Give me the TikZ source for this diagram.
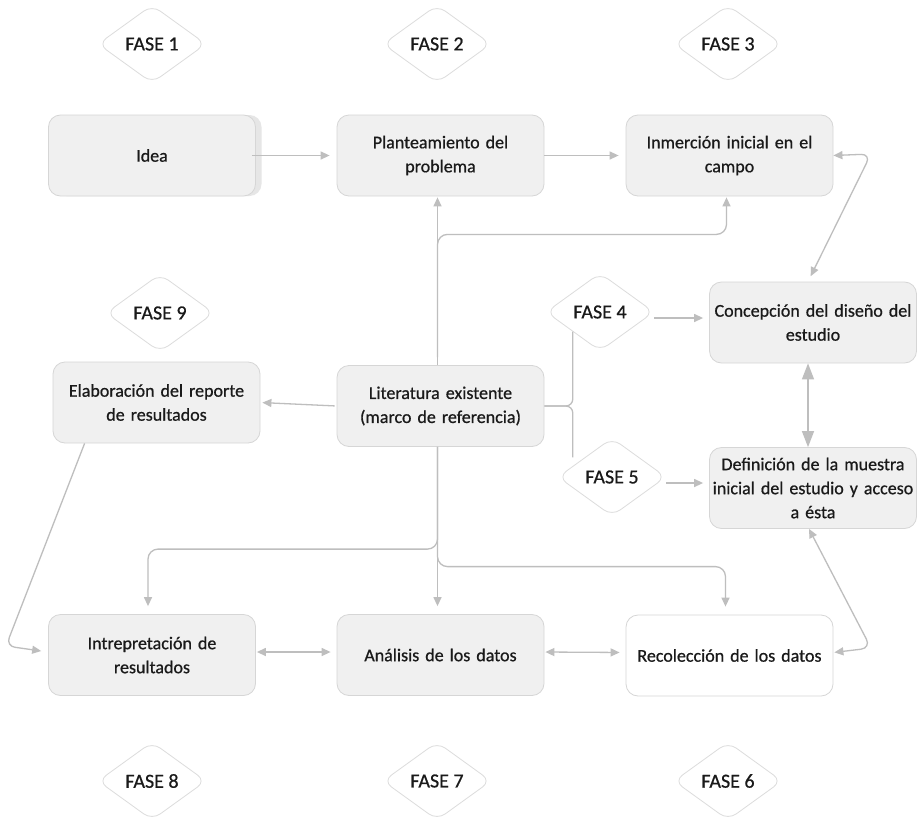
\documentclass[tikz,border=0pt]{standalone}
\usepackage{fontspec}
\setmainfont{Carlito}[FakeBold=0.7]
\usetikzlibrary{arrows.meta,shapes.geometric,calc,shadows}
\definecolor{boxfill}{HTML}{F0F0F0}
\definecolor{boxline}{HTML}{D6D6D6}
\definecolor{wirecol}{HTML}{BEBEBE}
\definecolor{ink}{HTML}{1A1A1A}
\definecolor{diamline}{HTML}{DCDCDC}
\definecolor{shadecol}{HTML}{E6E6E6}
\begin{document}
\begin{tikzpicture}[x=1pt,y=-1pt,
  stepbox/.style={rectangle, rounded corners=12pt, draw=boxline, fill=boxfill,
    line width=0.8pt, minimum width=207pt, minimum height=81pt,
    text width=204pt, align=center, inner sep=0pt, text=ink,
    font=\fontsize{18}{24}\selectfont},
  phase/.style={diamond, draw=diamline, fill=white, line width=0.8pt,
    rounded corners=10pt, minimum width=108pt, minimum height=78pt,
    inner sep=0pt, text=ink, font=\fontsize{20}{24}\selectfont},
  link/.style={draw=wirecol, line width=1.3pt},
  conn/.style={link, -{Triangle[length=9pt,width=8pt]}},
  dconn/.style={link, {Triangle[length=9pt,width=8pt]}-{Triangle[length=9pt,width=8pt]}},
  bigdconn/.style={link, {Triangle[length=16pt,width=12pt]}-{Triangle[length=16pt,width=12pt]}}
]
\fill[white] (0,0) rectangle (918,819);
\useasboundingbox (0,0) rectangle (918,819);

% phase markers
\node[phase] (f1) at (152,44) {FASE 1};
\node[phase] (f2) at (437,44) {FASE 2};
\node[phase] (f3) at (728,44) {FASE 3};
\node[phase] (f9) at (160,313) {FASE 9};
\node[phase] (f4) at (600,312) {FASE 4};
\node[phase] (f5) at (612,477) {FASE 5};
\node[phase] (f8) at (152,781) {FASE 8};
\node[phase] (f7) at (437,781) {FASE 7};
\node[phase] (f6) at (728,781) {FASE 6};

% process steps
\node[stepbox, drop shadow={shadow xshift=6pt, shadow yshift=0pt, fill=shadecol, opacity=1}] (idea) at (152,155.5) {Idea};
\node[stepbox] (plant) at (440.5,155.5) {Planteamiento del\\problema};
\node[stepbox] (inmer) at (729.5,155.5) {Inmerción inicial en el\\campo};
\node[stepbox] (concep) at (813,322.5) {Concepción del diseño del\\estudio};
\node[stepbox] (defin) at (813,488) {Definición de la muestra\\inicial del estudio y acceso\\a ésta};
\node[stepbox] (elab) at (156.5,402.5) {Elaboración del reporte\\de resultados};
\node[stepbox] (lit) at (440.5,406) {Literatura existente\\(marco de referencia)};
\node[stepbox] (interp) at (152,655) {Intrepretación de\\resultados};
\node[stepbox] (anal) at (440.5,655) {Análisis de los datos};
\node[stepbox, fill=white] (recol) at (729.5,655.5) {Recolección de los datos};

% bend points and connector ends
\coordinate (bendL) at (6,646);
\coordinate (bendTR) at (871,154);
\coordinate (bendBR) at (871,648);
\coordinate (f4out) at ($(f4.east)+(0,6)$);
\coordinate (f5out) at ($(f5.east)+(0,6)$);

% top row
\draw[conn, shorten <=-4pt, shorten >=7pt] (idea.east) -- (plant.west);
\draw[conn, shorten >=7pt] (plant.east) -- (inmer.west);

% literature upwards
\draw[conn, shorten >=1pt] ($(lit.north)+(-3,0)$) -- ($(plant.south)+(-3,0)$);
\draw[conn, rounded corners=10pt, shorten >=1pt] ($(lit.north)+(-3,-8)$) |- ($(inmer.south)+(-3,38)$) -- ($(inmer.south)+(-3,0)$);

% inmersion <-> concepcion
\draw[dconn, rounded corners=10pt, shorten >=6pt] (inmer.east) -- (bendTR) -- ($(concep.north)+(-5,0)$);

% literature to phases 4 and 5
\draw[link, rounded corners=7pt] (lit.east) -| (f4.south west);
\draw[link, rounded corners=7pt] (lit.east) -| (f5.north west -| f4.south west);
\draw[conn, shorten >=6pt] (f4out) -- (f4out -| concep.west);
\draw[conn, shorten >=6pt] (f5out) -- (f5out -| defin.west);

% concepcion <-> definicion
\draw[bigdconn] ($(concep.south)+(-5,0)$) -- ($(defin.north)+(-5,0)$);

% literature to report
\draw[conn, shorten <=2pt, shorten >=2pt] (lit.west) -- (elab.east);

% report to interpretation
\draw[conn, rounded corners=9pt, shorten >=7pt] ($(elab.south west)+(32,0)$) -- (bendL) -- ($(interp.west)+(0,-3)$);

% literature downwards
\draw[conn, shorten >=8pt] ($(lit.south)+(-3,0)$) -- ($(anal.north)+(-3,0)$);
\draw[conn, rounded corners=10pt, shorten >=8pt] ($(lit.south)+(-3,0)$) |- ($(interp.north)+(-4,-65)$) -- ($(interp.north)+(-4,0)$);
\draw[conn, rounded corners=10pt, shorten >=8pt] ($(lit.south)+(-3,0)$) |- ($(recol.north)+(-4,-48)$) -- ($(recol.north)+(-4,0)$);

% bottom row
\draw[dconn, shorten <=1pt, shorten >=6pt] ($(interp.east)+(0,-3)$) -- ($(anal.west)+(0,-3)$);
\draw[dconn, shorten <=1pt, shorten >=6pt] ($(anal.east)+(0,-3)$) -- ($(recol.west)+(0,-3)$);

% recoleccion <-> definicion
\draw[dconn, rounded corners=10pt, shorten <=1pt] ($(recol.east)+(0,-3)$) -- (bendBR) -- ($(defin.south)+(-4,0)$);
\end{tikzpicture}
\end{document}
